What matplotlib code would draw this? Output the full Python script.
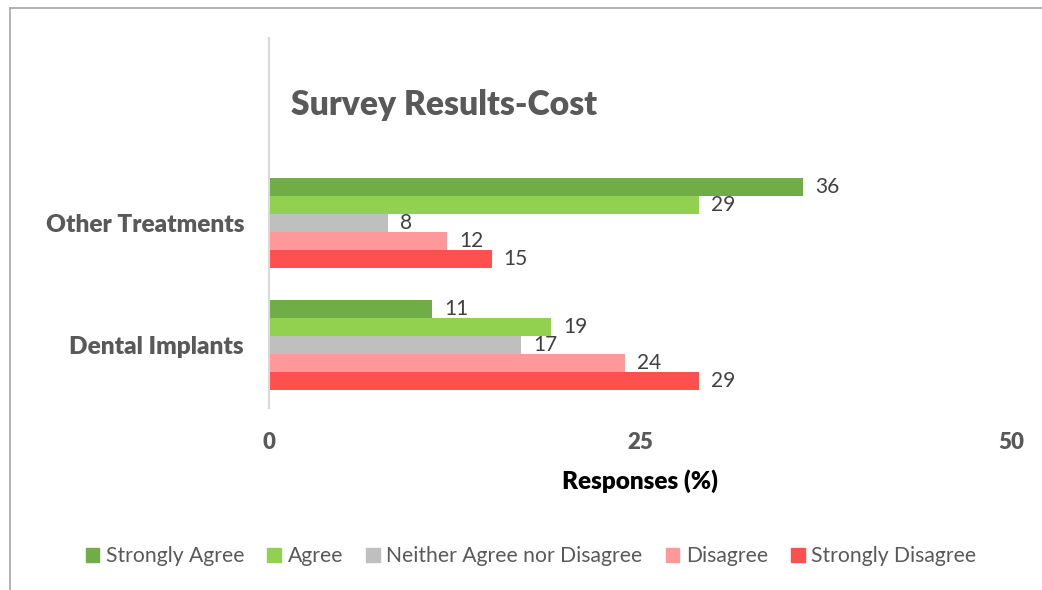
import numpy as np
import matplotlib.pyplot as plt
from matplotlib.lines import Line2D

categories = ["Dental Implants", "Other Treatments"]
series = ["Strongly Agree", "Agree", "Neither Agree nor Disagree", "Disagree", "Strongly Disagree"]
strongly_agree = [11, 36]
agree = [19, 29]
neither = [17, 8]
disagree = [24, 12]
strongly_disagree = [29, 15]
values = [strongly_agree, agree, neither, disagree, strongly_disagree]
colors = ["#70AD47", "#92D050", "#BFBFBF", "#FF9999", "#FF5050"]

plt.rcParams['font.family'] = ['Lato', 'DejaVu Sans']

fig = plt.figure(figsize=(10.42, 5.9), dpi=100)
ax = fig.add_axes([269 / 1042, 1 - 408 / 590, (1011 - 269) / 1042, 370 / 590])

h = 18 / 122
y = np.arange(len(categories))
for i, (name, vals, col) in enumerate(zip(series, values, colors)):
    off = (2 - i) * h
    bars = ax.barh(y + off, vals, height=h, color=col, label=name)
    for b, v in zip(bars, vals):
        ax.text(v + 0.8, b.get_y() + h / 2, str(v), va='center', ha='left',
                fontsize=15, color='#404040')

ax.set_xlim(0, 50)
ax.set_ylim(-0.516, 2.516)
ax.set_xticks([0, 25, 50])
ax.set_xticklabels(["0", "25", "50"], fontsize=16, fontweight='heavy', color='#595959')
ax.set_yticks(y)
ax.set_yticklabels(categories, fontsize=17.6, fontweight='heavy', color='#595959')
ax.tick_params(axis='x', length=0, pad=17)
ax.tick_params(axis='y', length=0, pad=18)
for s in ['top', 'right', 'bottom']:
    ax.spines[s].set_visible(False)
ax.spines['left'].set_color('#D9D9D9')
ax.spines['left'].set_linewidth(1.5)
ax.set_xlabel("Responses (%)", fontsize=17.5, fontweight='heavy', color='black', labelpad=12)

fig.text(291 / 1042, 1 - 105 / 590, "Survey Results-Cost", fontsize=24.2, fontweight='heavy',
         color='#595959', va='center', ha='left')

handles = [plt.Rectangle((0, 0), 1, 1, color=c) for c in colors]
fig.legend(handles, series, loc='center', bbox_to_anchor=(531 / 1042, 1 - 556 / 590), ncol=5,
           frameon=False, fontsize=15.2, labelcolor='#595959', handlelength=0.65, handleheight=0.65,
           handletextpad=0.3, columnspacing=1.1)

# outer frame lines (top and left)
fig.add_artist(Line2D([10 / 1042, 1], [1 - 8 / 590, 1 - 8 / 590], color='#A6A6A6', lw=1.2))
fig.add_artist(Line2D([10 / 1042, 10 / 1042], [0, 1 - 8 / 590], color='#A6A6A6', lw=1.2))

fig.savefig("out.png", dpi=100)
